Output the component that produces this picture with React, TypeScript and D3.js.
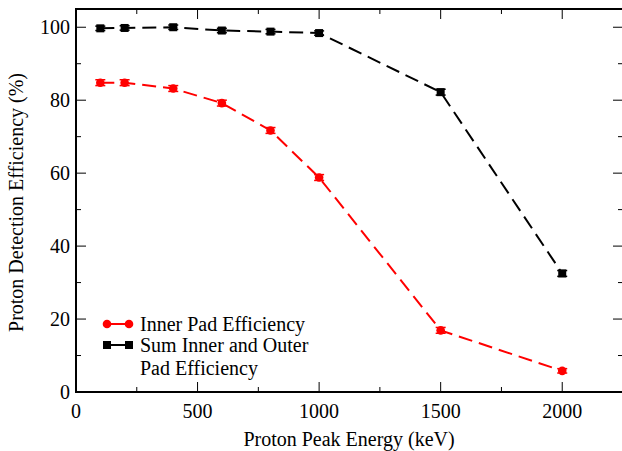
import React from "react";
import * as d3 from "d3";

const energies = [100, 200, 400, 600, 800, 1000, 1500, 2000];
const innerEff = [84.8, 84.8, 83.2, 79.2, 71.7, 58.8, 16.9, 5.8];
const innerErr = [0.8, 0.8, 0.8, 0.8, 0.8, 0.8, 0.8, 0.6];
const sumEff = [99.7, 99.8, 100.0, 99.1, 98.8, 98.4, 82.2, 32.5];
const sumErr = [0.6, 0.6, 0.6, 0.6, 0.6, 0.6, 0.8, 0.8];
const xTicks = [0, 500, 1000, 1500, 2000];
const yTicks = [0, 20, 40, 60, 80, 100];
const xMinor = [250, 750, 1250, 1750];
const yMinor = [10, 30, 50, 70, 90];
const legendLabels = ["Inner Pad Efficiency", "Sum Inner and Outer", "Pad Efficiency"];

const W = 622, H = 451;
const L = 76, R = 623, T = 9, B = 392;
const FONT = "Liberation Serif, DejaVu Serif, serif";

export default function App() {
  const x = d3.scaleLinear().domain([0, 2250]).range([L, R]);
  const y = d3.scaleLinear().domain([0, 105]).range([B, T]);
  const line = d3.line<[number, number]>().x(d => x(d[0])).y(d => y(d[1]));
  const innerPts: [number, number][] = energies.map((e, i) => [e, innerEff[i]]);
  const sumPts: [number, number][] = energies.map((e, i) => [e, sumEff[i]]);
  const cap = 5;
  const errBars = (vals: number[], errs: number[], color: string) =>
    energies.map((e, i) => {
      const cx = x(e), y1 = y(vals[i] + errs[i]), y2 = y(vals[i] - errs[i]);
      return (
        <g key={i} stroke={color} strokeWidth={1.5}>
          <line x1={cx} x2={cx} y1={y1} y2={y2} />
          <line x1={cx - cap} x2={cx + cap} y1={y1} y2={y1} />
          <line x1={cx - cap} x2={cx + cap} y1={y2} y2={y2} />
        </g>
      );
    });
  return (
    <div style={{ position: "absolute", left: 0, top: 0 }}>
      <svg width={W} height={H} style={{ display: "block" }}>
        <rect width={W} height={H} fill="white" />
        <path d={line(sumPts)!} fill="none" stroke="black" strokeWidth={2} strokeDasharray="14,7" />
        <path d={line(innerPts)!} fill="none" stroke="#ff0000" strokeWidth={2} strokeDasharray="14,7" />
        {errBars(sumEff, sumErr, "black")}
        {errBars(innerEff, innerErr, "#ff0000")}
        {sumPts.map((p, i) => (
          <rect key={i} x={x(p[0]) - 4} y={y(p[1]) - 4} width={8} height={8} fill="black" />
        ))}
        {innerPts.map((p, i) => (
          <circle key={i} cx={x(p[0])} cy={y(p[1])} r={4.3} fill="#ff0000" />
        ))}
        <rect x={L} y={T} width={R - L} height={B - T} fill="none" stroke="black" strokeWidth={2} />
        <g stroke="black" strokeWidth={1}>
          {xTicks.map(t => (
            <g key={"xt" + t}>
              <line x1={x(t)} x2={x(t)} y1={B} y2={B - 10} />
              <line x1={x(t)} x2={x(t)} y1={T} y2={T + 10} />
            </g>
          ))}
          {xMinor.map(t => (
            <g key={"xm" + t}>
              <line x1={x(t)} x2={x(t)} y1={B} y2={B - 5} />
              <line x1={x(t)} x2={x(t)} y1={T} y2={T + 5} />
            </g>
          ))}
          {yTicks.map(t => (
            <g key={"yt" + t}>
              <line x1={L} x2={L + 10} y1={y(t)} y2={y(t)} />
              <line x1={R} x2={R - 10} y1={y(t)} y2={y(t)} />
            </g>
          ))}
          {yMinor.map(t => (
            <g key={"ym" + t}>
              <line x1={L} x2={L + 5} y1={y(t)} y2={y(t)} />
              <line x1={R} x2={R - 5} y1={y(t)} y2={y(t)} />
            </g>
          ))}
        </g>
        <g fontFamily={FONT} fontSize={20} fill="black">
          {xTicks.map(t => (
            <text key={"xl" + t} x={x(t)} y={B + 26} textAnchor="middle">{t}</text>
          ))}
          {yTicks.map(t => (
            <text key={"yl" + t} x={L - 6} y={y(t) + 7} textAnchor="end">{t}</text>
          ))}
          <text x={349} y={446} textAnchor="middle">Proton Peak Energy (keV)</text>
          <text transform={`translate(23,${(T + B) / 2 + 2}) rotate(-90)`} textAnchor="middle">
            Proton Detection Efficiency (%)
          </text>
        </g>
        <g>
          <line x1={107} x2={129} y1={324} y2={324} stroke="#ff0000" strokeWidth={2} />
          <circle cx={107} cy={324} r={4.3} fill="#ff0000" />
          <circle cx={129} cy={324} r={4.3} fill="#ff0000" />
          <line x1={107} x2={129} y1={345} y2={345} stroke="black" strokeWidth={2} />
          <rect x={103} y={341} width={8} height={8} fill="black" />
          <rect x={125} y={341} width={8} height={8} fill="black" />
          <g fontFamily={FONT} fontSize={20} fill="black">
            <text x={140} y={331}>{legendLabels[0]}</text>
            <text x={140} y={352}>{legendLabels[1]}</text>
            <text x={140} y={375}>{legendLabels[2]}</text>
          </g>
        </g>
      </svg>
    </div>
  );
}
